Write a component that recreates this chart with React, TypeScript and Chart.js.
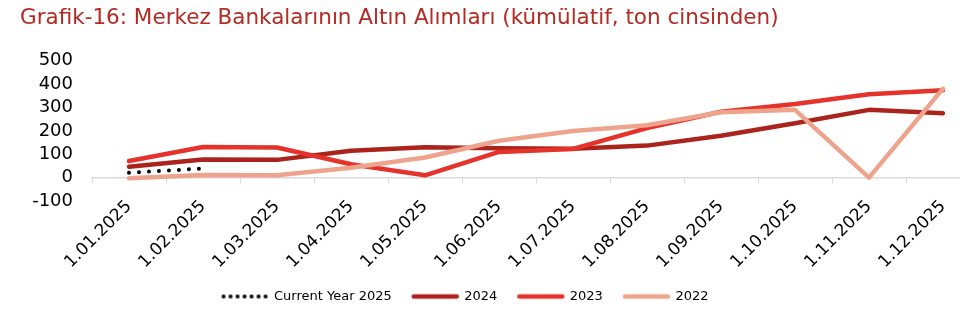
import React, { useEffect, useRef } from "react";
import { Chart, registerables } from "chart.js";

Chart.register(...registerables);

const categories = [
  "1.01.2025", "1.02.2025", "1.03.2025", "1.04.2025", "1.05.2025", "1.06.2025",
  "1.07.2025", "1.08.2025", "1.09.2025", "1.10.2025", "1.11.2025", "1.12.2025",
];
const current2025: (number | null)[] = [21, 39, null, null, null, null, null, null, null, null, null, null];
const values2024 = [47, 78, 76, 115, 130, 126, 124, 137, 179, 233, 290, 276];
const values2023 = [71, 131, 129, 57, 10, 110, 123, 212, 282, 315, 357, 374];
const values2022 = [-3, 11, 10, 42, 86, 158, 200, 224, 280, 290, 0, 381];
const yTicks = [-100, 0, 100, 200, 300, 400, 500];

const TITLE = "Grafik-16: Merkez Bankalarının Altın Alımları (kümülatif, ton cinsinden)";
const FONT = "'DejaVu Sans', 'Noto Sans', sans-serif";

function makeLineIcon(color: string, dotted: boolean): HTMLCanvasElement {
  const c = document.createElement("canvas");
  c.width = 52;
  c.height = 8;
  const ctx = c.getContext("2d")!;
  if (dotted) {
    ctx.fillStyle = "#000";
    for (let i = 0; i < 7; i++) {
      ctx.beginPath();
      ctx.arc(5 + i * 7, 4, 2, 0, Math.PI * 2);
      ctx.fill();
    }
  } else {
    ctx.strokeStyle = color;
    ctx.lineWidth = 4.5;
    ctx.lineCap = "round";
    ctx.beginPath();
    ctx.moveTo(5, 4);
    ctx.lineTo(48, 4);
    ctx.stroke();
  }
  return c;
}

const legendShift = {
  id: "legendShift",
  afterLayout(chart: any) {
    const l = chart.legend;
    if (l) {
      l.left -= 50;
      l.right -= 50;
    }
  },
};

export default function App() {
  const ref = useRef<HTMLCanvasElement | null>(null);

  useEffect(() => {
    if (!ref.current) return;
    const c2024 = "#ab231d";
    const c2023 = "#e5322a";
    const c2022 = "#eea48c";
    const chart = new Chart(ref.current, {
      type: "line",
      data: {
        labels: categories,
        datasets: [
          {
            label: "Current Year 2025",
            data: current2025,
            borderColor: "#000",
            backgroundColor: "#000",
            borderWidth: 4,
            borderDash: [0, 10],
            borderCapStyle: "round",
            pointRadius: 0,
            pointStyle: makeLineIcon("#000", true) as any,
            order: 0,
          },
          {
            label: "2024",
            data: values2024,
            borderColor: c2024,
            backgroundColor: c2024,
            borderWidth: 4.5,
            borderCapStyle: "round",
            borderJoinStyle: "round",
            pointRadius: 0,
            pointStyle: makeLineIcon(c2024, false) as any,
            order: 3,
          },
          {
            label: "2023",
            data: values2023,
            borderColor: c2023,
            backgroundColor: c2023,
            borderWidth: 4.5,
            borderCapStyle: "round",
            borderJoinStyle: "round",
            pointRadius: 0,
            pointStyle: makeLineIcon(c2023, false) as any,
            order: 2,
          },
          {
            label: "2022",
            data: values2022,
            borderColor: c2022,
            backgroundColor: c2022,
            borderWidth: 4.5,
            borderCapStyle: "round",
            borderJoinStyle: "round",
            pointRadius: 0,
            pointStyle: makeLineIcon(c2022, false) as any,
            order: 1,
          },
        ],
      },
      options: {
        animation: false,
        responsive: false,
        devicePixelRatio: 1,
        layout: { padding: { left: 20, right: 0, top: 0, bottom: 10 } },
        plugins: {
          title: {
            display: true,
            text: TITLE,
            align: "start",
            color: "#b52a22",
            font: { family: FONT, size: 21.5, weight: "normal" },
            padding: { top: 6, bottom: 29 },
          },
          legend: {
            position: "bottom",
            labels: {
              usePointStyle: true,
              pointStyleWidth: 46,
              boxHeight: 8,
              color: "#000",
              font: { family: FONT, size: 13 },
              padding: 20,
              sort: (a: any, b: any) => a.datasetIndex - b.datasetIndex,
            },
          },
          tooltip: { enabled: false },
        },
        scales: {
          x: {
            type: "category",
            position: { y: 0 } as any,
            offset: true,
            grid: {
              display: true,
              drawOnChartArea: false,
              drawTicks: true,
              tickLength: 5,
              color: "#d9d9d9",
              offset: true,
            },
            border: { display: true, color: "#d9d9d9", width: 1.5 },
            ticks: {
              autoSkip: false,
              minRotation: 45,
              maxRotation: 45,
              color: "#000",
              font: { family: FONT, size: 17 },
              padding: 14,
            },
          },
          xSpace: {
            type: "category",
            position: "bottom",
            display: true,
            grid: { display: false },
            border: { display: false },
            ticks: { display: false },
            afterFit: (s: any) => {
              s.height = 69;
            },
          },
          y: {
            type: "linear",
            min: -100,
            max: 500,
            grid: { display: false, drawTicks: false },
            border: { display: false },
            afterBuildTicks: (s: any) => {
              s.ticks = yTicks.map((v) => ({ value: v }));
            },
            afterFit: (s: any) => {
              s.width = 72;
            },
            ticks: {
              autoSkip: false,
              color: "#000",
              font: { family: FONT, size: 18 },
              padding: 19,
            },
          },
          ySpace: {
            type: "linear",
            position: "right",
            display: true,
            grid: { display: false },
            border: { display: false },
            ticks: { display: false },
            afterFit: (s: any) => {
              s.width = 30;
            },
          },
        },
      },
      plugins: [legendShift],
    });
    return () => chart.destroy();
  }, []);

  return (
    <div style={{ position: "absolute", left: 0, top: 0, width: 960, height: 323, overflow: "hidden", background: "#fff" }}>
      <canvas ref={ref} width={1010} height={323} style={{ display: "block" }} />
    </div>
  );
}
